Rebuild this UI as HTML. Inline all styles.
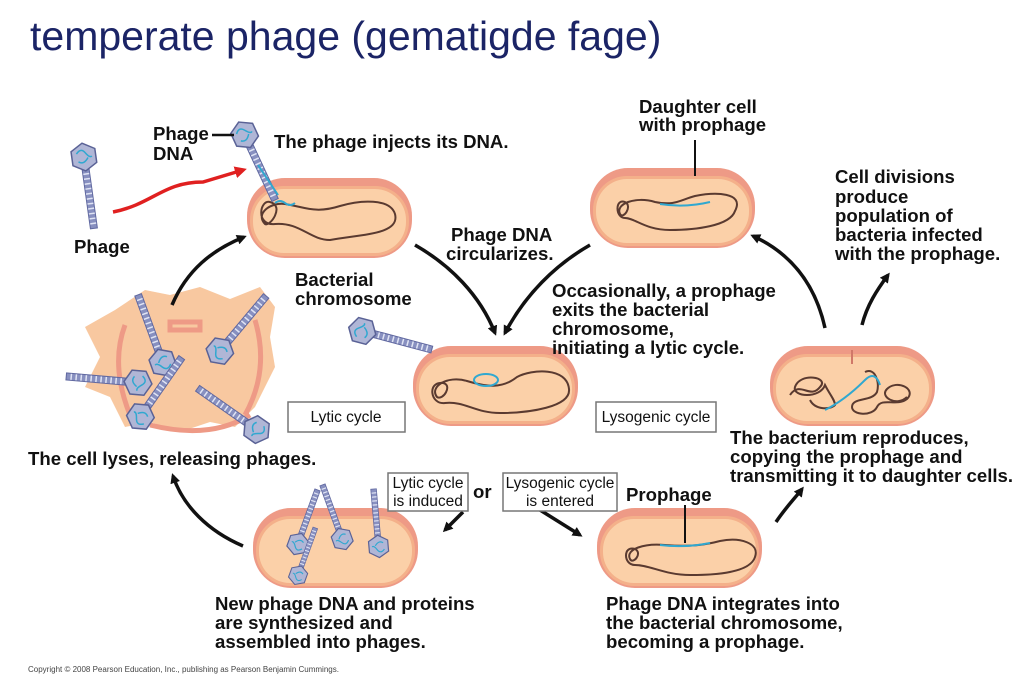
<!DOCTYPE html>
<html><head><meta charset="utf-8"><style>
html,body{margin:0;padding:0;background:#fff;}
svg{display:block;font-family:"Liberation Sans",sans-serif;}
.t{font-weight:bold;font-size:18.6px;fill:#111;}
.s{font-size:15.5px;fill:#111;}
</style></head><body>
<svg width="1029" height="683" viewBox="0 0 1029 683" xmlns="http://www.w3.org/2000/svg">
<defs>
<g id="cell">
<rect x="0" y="0" width="165" height="80" rx="38" fill="#ee9a86"/>
<rect x="3" y="8" width="159" height="70" rx="34" fill="#f4b08a"/>
<rect x="6" y="11" width="153" height="64" rx="31" fill="#fbd0a8"/>
</g>
<g id="phage">
<rect x="-3.5" y="0" width="7" height="64" fill="#8890c0" stroke="#6068a0" stroke-width="1"/>
<path d="M-3 4h6M-3 9h6M-3 14h6M-3 19h6M-3 24h6M-3 29h6M-3 34h6M-3 39h6M-3 44h6M-3 49h6M-3 54h6M-3 59h6" stroke="#e0e4f4" stroke-width="1.5"/>
<polygon points="0,-22 12,-15 12,-1 0,6 -12,-1 -12,-15" fill="#b0b6d6" stroke="#5a6296" stroke-width="1.5"/>
<path d="M-7 -12q5 -6 9 0t6 4M-6 -4q5 4 10 -3" stroke="#30a8d0" stroke-width="1.5" fill="none"/>
</g>
<marker id="ah" markerWidth="10" markerHeight="10" refX="7" refY="5" orient="auto" markerUnits="userSpaceOnUse"><path d="M0,0 L10,5 L0,10 z" fill="#111"/></marker>
<marker id="ahr" markerWidth="12" markerHeight="12" refX="8" refY="6" orient="auto" markerUnits="userSpaceOnUse"><path d="M0,0 L12,6 L0,12 z" fill="#e02020"/></marker>
</defs>

<text x="30" y="50" font-size="41" fill="#1b2466">temperate phage (gematigde fage)</text>

<use href="#cell" x="247" y="178"/>
<use href="#cell" x="413" y="346"/>
<use href="#cell" x="590" y="168"/>
<use href="#cell" x="597" y="508"/>
<use href="#cell" x="253" y="508"/>
<g>
<use href="#cell" x="770" y="346"/>
<path d="M852 350v14" stroke="#d07868" stroke-width="2"/>
</g>

<g fill="none" stroke="#5a3a30" stroke-width="2">
<path d="M330 240c-20 0 -30 -18 -55 -16c-20 2 -15 -25 -5 -22c15 4 0 25 -5 22c-10 -10 5 -22 20 -20c20 3 30 10 55 2c20 -6 50 -8 55 8c5 20 -30 20 -65 26z"/>
<path d="M500 413c-25 0 -35 -12 -55 -10c-15 2 -18 -22 -2 -20c10 2 0 18 -6 14c-8 -10 10 -22 30 -16c20 6 35 8 50 -4c15 -8 50 -10 52 12c2 18 -40 24 -69 24z"/>
<path d="M670 230c-25 0 -35 -12 -45 -12c-10 0 -10 -20 0 -16c8 4 -2 18 -5 12c-5 -10 15 -18 35 -12c20 4 25 -2 40 -6c20 -4 50 -4 40 15c-5 15 -40 19 -65 19z"/>
<path d="M690 575c-25 0 -40 -10 -55 -10c-12 0 -12 -20 0 -16c8 4 -2 16 -5 10c-5 -10 15 -16 35 -14c25 2 40 0 55 -4c20 -4 40 2 35 16c-5 16 -40 18 -65 18z"/>
<path d="M790 395c10 -15 20 5 30 -8c10 -10 -20 -15 -25 0c-3 10 25 12 30 -2c5 10 10 15 10 20c-5 5 -20 5 -25 -5M865 372c10 -5 15 10 12 20c-5 10 -25 5 -25 15c0 8 20 10 25 0c5 -10 20 0 30 -8c10 -10 -10 -20 -20 -10c-8 8 10 18 20 8"/>
</g>
<path d="M275 203q5 -4 10 0t10 0" stroke="#30a8d0" stroke-width="2" fill="none"/>
<ellipse cx="486" cy="380" rx="12" ry="6" fill="none" stroke="#30a8d0" stroke-width="2"/>
<path d="M660 204q25 4 50 -2" stroke="#30a8d0" stroke-width="2" fill="none"/>
<path d="M660 545q25 3 50 -2" stroke="#30a8d0" stroke-width="2" fill="none"/>
<path d="M685 505v38" stroke="#111" stroke-width="2"/>
<path d="M825 410q20 -10 40 -30q10 -10 15 5" stroke="#30a8d0" stroke-width="2" fill="none"/>
<path d="M695 140v36" stroke="#111" stroke-width="2"/>

<path d="M115 310l30 -20l25 5l30 -8l30 12l30 -12l15 20l-5 30l5 30l-20 40l-20 20l-25 -5l-30 10l-30 -10l-25 5l-15 -30l-25 -10l15 -30l-15 -30z" fill="#f8c8a0"/>
<path d="M125 325q-15 40 5 90M255 320q15 50 -10 95M150 425q60 15 100 -10M170 322h30v8h-30z" stroke="#ee9a86" stroke-width="5" fill="none"/>
<use href="#phage" transform="translate(160,355) rotate(160)"/>
<use href="#phage" transform="translate(225,345) rotate(-140)"/>
<use href="#phage" transform="translate(130,382) rotate(95)"/>
<use href="#phage" transform="translate(145,410) rotate(-145)"/>
<use href="#phage" transform="translate(250,425) rotate(125)"/>

<use href="#phage" transform="translate(300,538) rotate(200) scale(0.8)"/>
<use href="#phage" transform="translate(340,533) rotate(160) scale(0.8)"/>
<use href="#phage" transform="translate(300,570) rotate(200) scale(0.7)"/>
<use href="#phage" transform="translate(378,540) rotate(175) scale(0.8)"/>

<use href="#phage" transform="translate(85,165) rotate(-8)"/>
<use href="#phage" transform="translate(248,142) rotate(-25)"/>
<path d="M258 165l20 30" stroke="#30a8d0" stroke-width="2"/>
<use href="#phage" transform="translate(370,333) rotate(-75)"/>
<path d="M113 212c40 -8 50 -30 90 -30q20 -6 40 -12" stroke="#e02020" stroke-width="3.5" fill="none" marker-end="url(#ahr)"/>
<path d="M212 135h22" stroke="#111" stroke-width="2.5"/>

<g stroke="#111" stroke-width="3.5" fill="none" marker-end="url(#ah)">
<path d="M172 305c15 -35 40 -55 72 -68"/>
<path d="M415 245c35 20 65 50 80 88"/>
<path d="M590 245c-35 20 -65 50 -85 88"/>
<path d="M825 328c-10 -45 -35 -75 -72 -92"/>
<path d="M862 325c5 -20 15 -35 26 -50"/>
<path d="M776 522c10 -15 20 -25 26 -33"/>
<path d="M243 546c-35 -15 -60 -40 -70 -70"/>
<path d="M463 512l-18 18"/>
<path d="M540 510l40 25"/>
</g>

<g fill="#fff" stroke="#777" stroke-width="1.5">
<rect x="288" y="402" width="117" height="30"/>
<rect x="596" y="402" width="120" height="30"/>
<rect x="388" y="473" width="80" height="38"/>
<rect x="503" y="473" width="114" height="38"/>
</g>
<text class="s" x="346" y="422" text-anchor="middle">Lytic cycle</text>
<text class="s" x="656" y="422" text-anchor="middle">Lysogenic cycle</text>
<text class="s" x="428" y="488" text-anchor="middle">Lytic cycle</text>
<text class="s" x="428" y="506" text-anchor="middle">is induced</text>
<text class="s" x="560" y="488" text-anchor="middle">Lysogenic cycle</text>
<text class="s" x="560" y="506" text-anchor="middle">is entered</text>
<text class="t" x="473" y="498">or</text>

<g>
<text class="t" x="153" y="140">Phage</text>
<text class="t" x="153" y="160">DNA</text>
<text class="t" x="274" y="148">The phage injects its DNA.</text>
<text class="t" x="74" y="253">Phage</text>
<text class="t" x="295" y="286">Bacterial</text>
<text class="t" x="295" y="305">chromosome</text>
<text class="t" x="451" y="241">Phage DNA</text>
<text class="t" x="446" y="260">circularizes.</text>
<text class="t" x="639" y="113">Daughter cell</text>
<text class="t" x="639" y="131">with prophage</text>
<text class="t" x="835" y="183">Cell divisions</text>
<text class="t" x="835" y="203">produce</text>
<text class="t" x="835" y="222">population of</text>
<text class="t" x="835" y="241">bacteria infected</text>
<text class="t" x="835" y="260">with the prophage.</text>
<text class="t" x="552" y="297">Occasionally, a prophage</text>
<text class="t" x="552" y="316">exits the bacterial</text>
<text class="t" x="552" y="335">chromosome,</text>
<text class="t" x="552" y="354">initiating a lytic cycle.</text>
<text class="t" x="28" y="465">The cell lyses, releasing phages.</text>
<text class="t" x="730" y="444">The bacterium reproduces,</text>
<text class="t" x="730" y="463">copying the prophage and</text>
<text class="t" x="730" y="482">transmitting it to daughter cells.</text>
<text class="t" x="626" y="501">Prophage</text>
<text class="t" x="215" y="610">New phage DNA and proteins</text>
<text class="t" x="215" y="629">are synthesized and</text>
<text class="t" x="215" y="648">assembled into phages.</text>
<text class="t" x="606" y="610">Phage DNA integrates into</text>
<text class="t" x="606" y="629">the bacterial chromosome,</text>
<text class="t" x="606" y="648">becoming a prophage.</text>
</g>
<text x="28" y="672" font-size="8" fill="#444">Copyright © 2008 Pearson Education, Inc., publishing as Pearson Benjamin Cummings.</text>
</svg>
</body></html>
